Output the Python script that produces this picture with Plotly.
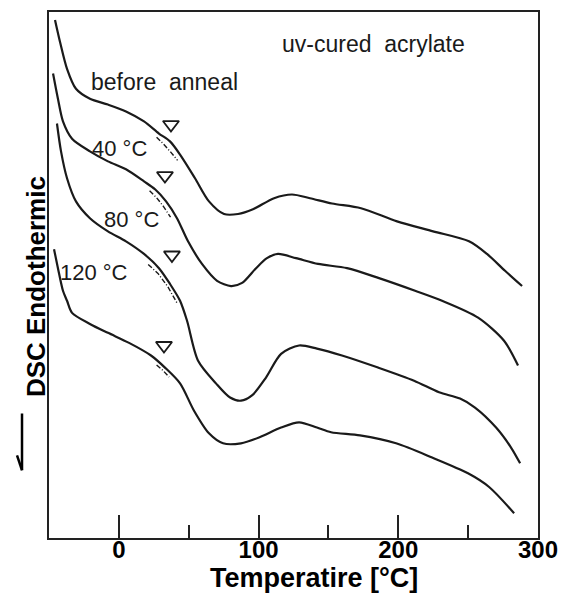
import plotly.graph_objects as go

# ---- data (temperature in °C, DSC signal in arbitrary units) ----
t_before = [-45.7, -42.1, -37.1, -30.7, -20.7, -7.8, 5.1, 18.0, 28.7, 36.6, 43.8, 54.5, 64.5, 75.3, 85.3, 96.0,
            111.1, 123.9, 136.8, 152.6, 173.3, 199.1, 224.9, 250.6, 263.5, 276.4, 288.6]
s_before = [98.5, 94.3, 89.2, 85.4, 83.5, 82.4, 81.1, 79.2, 76.9, 75.4, 72.9, 68.4, 64.0, 61.6, 61.6, 62.5,
            64.6, 65.3, 64.6, 63.6, 62.7, 60.2, 58.3, 56.4, 54.0, 50.8, 47.9]

t_40 = [-47.1, -43.6, -40.0, -33.5, -20.7, -7.8, 5.1, 18.0, 25.9, 33.8, 41.6, 49.5, 59.5, 70.3, 80.3, 88.2,
        98.2, 106.0, 113.9, 126.8, 142.6, 163.3, 186.2, 212.0, 231.3, 257.1, 275.7, 285.7]
s_40 = [88.3, 83.5, 79.2, 75.9, 73.5, 71.6, 70.1, 67.8, 66.3, 64.0, 60.8, 56.4, 52.1, 48.9, 47.9, 48.5,
        51.3, 53.2, 54.0, 53.2, 52.1, 51.3, 49.4, 47.0, 45.1, 41.9, 37.5, 32.8]

t_80 = [-44.3, -41.4, -37.1, -30.7, -20.7, -7.8, 5.1, 18.0, 28.7, 36.6, 43.8, 48.8, 56.7, 69.5, 79.6, 87.4,
        95.3, 105.3, 116.1, 129.0, 141.8, 159.7, 185.5, 211.3, 229.2, 244.2, 254.9, 270.0, 280.7, 287.2]
s_80 = [78.8, 73.5, 68.4, 64.0, 60.8, 58.3, 56.4, 54.0, 51.3, 48.3, 45.1, 41.3, 33.7, 29.4, 26.7, 26.1,
        27.1, 30.5, 35.0, 36.6, 36.0, 34.7, 32.4, 29.9, 27.7, 26.5, 24.8, 21.0, 17.2, 14.2]

t_120 = [-46.4, -43.6, -40.0, -37.1, -33.5, -20.7, -7.8, 7.3, 23.0, 33.0, 43.8, 53.8, 64.5, 74.6, 87.4,
         100.3, 116.1, 129.0, 141.8, 151.9, 172.6, 198.4, 224.2, 249.9, 265.0, 282.9]
s_120 = [54.9, 51.3, 47.0, 45.1, 42.8, 40.7, 39.0, 37.1, 34.7, 32.4, 29.4, 24.2, 19.9, 18.0, 18.0,
         19.1, 21.0, 22.0, 21.0, 20.1, 19.5, 18.0, 15.3, 12.3, 9.7, 4.7]

# dashed comparison segments near the transitions
dash_t = [[27, 32, 37, 42], [22, 27, 32, 37], [21, 28, 35, 42], [27, 31, 36]]
dash_s = [[76.2, 74.9, 73.4, 71.8], [66.0, 64.7, 63.0, 61.0], [52.0, 50.3, 47.8, 44.5], [32.9, 32.0, 30.6]]

# onset markers (open triangles)
tri_t = [37.3, 33.0, 38.0, 32.3]
tri_s = [78.6, 68.9, 53.8, 36.6]

curve_labels = ["before\u00a0\u00a0anneal", "40\u00a0°C", "80\u00a0°C", "120\u00a0°C"]
label_t = [33.0, 0.5, 9.0, -18.0]
label_s = [86.7, 74.0, 60.6, 50.4]
label_size = [23, 22, 22, 22]

x_ticks = [0, 100, 200, 300]

ink = "#1a1a1a"
fig = go.Figure()
for t, s in [(t_before, s_before), (t_40, s_40), (t_80, s_80), (t_120, s_120)]:
    fig.add_trace(go.Scatter(x=t, y=s, mode="lines", line=dict(color=ink, width=2.2, shape="spline", smoothing=0.8),
                             showlegend=False, hoverinfo="skip"))
for t, s in zip(dash_t, dash_s):
    fig.add_trace(go.Scatter(x=t, y=s, mode="lines", line=dict(color=ink, width=1.4, dash="5px,2px,1px,2px"),
                             showlegend=False, hoverinfo="skip"))
fig.add_trace(go.Scatter(x=tri_t, y=tri_s, mode="markers",
                         marker=dict(symbol="triangle-down-open", size=14, color=ink, line=dict(width=1.8, color=ink)),
                         showlegend=False, hoverinfo="skip"))

for txt, t, s, fs in zip(curve_labels, label_t, label_s, label_size):
    fig.add_annotation(x=t, y=s, xref="x", yref="y", text=txt, showarrow=False,
                       font=dict(family="Liberation Sans, Arial, sans-serif", size=fs, color=ink))
fig.add_annotation(x=182, y=93.9, xref="x", yref="y", text="uv-cured\u00a0\u00a0acrylate", showarrow=False,
                   font=dict(family="Liberation Sans, Arial, sans-serif", size=23, color=ink))

# axis titles
fig.add_annotation(x=0.542, y=-0.108, xref="paper", yref="paper", text="Temperatire [°C]", showarrow=False,
                   font=dict(family="Liberation Sans, Arial, sans-serif", size=27, color="black", weight="bold"))
fig.add_annotation(x=-0.0613, y=0.477, xref="paper", yref="paper", text="DSC Endothermic", showarrow=False,
                   textangle=-90,
                   font=dict(family="Liberation Sans, Arial, sans-serif", size=26, color="black", weight="bold"))
# arrow beside y title
fig.add_shape(type="line", xref="paper", yref="paper", x0=-0.0552, x1=-0.0552, y0=0.2367, y1=0.1288,
              line=dict(color="black", width=2.5))
fig.add_shape(type="line", xref="paper", yref="paper", x0=-0.0552, x1=-0.0654, y0=0.1288, y1=0.157,
              line=dict(color="black", width=2.5))

# the page body has an 8px default margin, so the figure is sized/offset to fill the 568x612 window
fig.update_layout(
    width=560, height=604,
    margin=dict(l=41, r=30, t=2, b=74),
    paper_bgcolor="white", plot_bgcolor="white",
    xaxis=dict(range=[-50, 300], tickvals=x_ticks, ticks="inside", ticklen=23, tickwidth=2, tickcolor="#222",
               ticklabelstandoff=-11,
               showline=True, linewidth=2, linecolor="#222", mirror=True, showgrid=False, zeroline=False,
               tickfont=dict(family="Liberation Sans, Arial, sans-serif", size=24, color="black", weight="bold"),
               minor=dict(tickvals=[50, 150, 250], ticks="inside", ticklen=13, tickwidth=2, tickcolor="#222")),
    yaxis=dict(range=[0, 100], showticklabels=False, ticks="", showline=True, linewidth=2, linecolor="#222",
               mirror=True, showgrid=False, zeroline=False),
)
fig.write_html("out.html")
